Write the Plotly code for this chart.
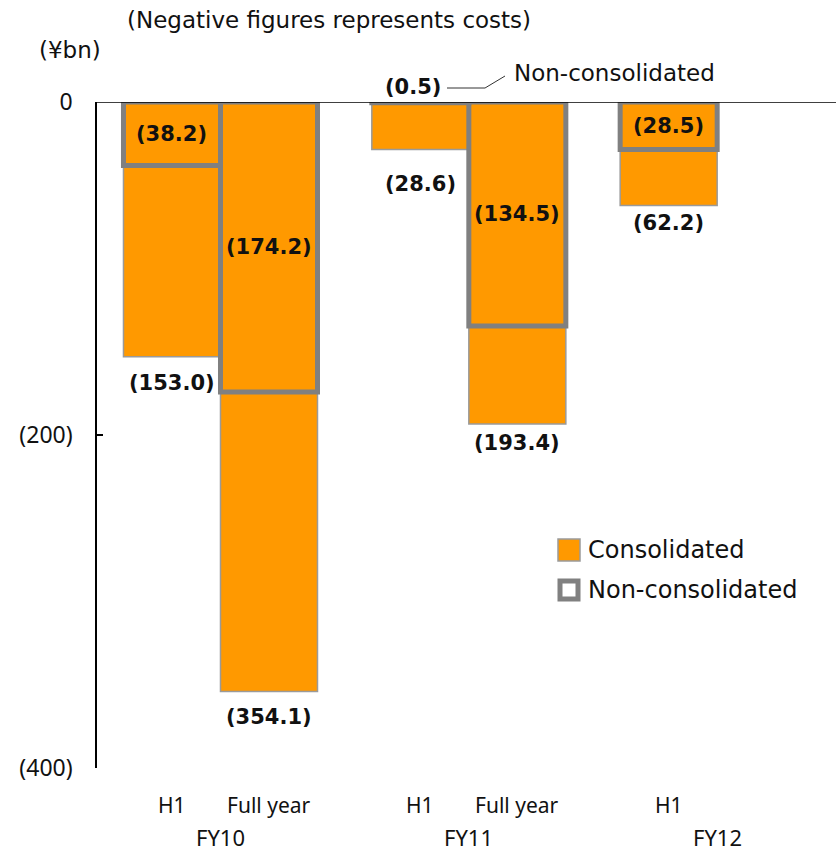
import plotly.graph_objects as go

# ---- data ----
groups = ["FY10", "FY11", "FY12"]
periods = ["H1", "Full year", "H1", "Full year", "H1"]
group_of = [0, 0, 1, 1, 2]
sub_of = [0, 1, 0, 1, 0]
consolidated = [-153.0, -354.1, -28.6, -193.4, -62.2]
non_consolidated = [-38.2, -174.2, -0.5, -134.5, -28.5]
series_names = ["Consolidated", "Non-consolidated"]
y_ticks = [0, -200, -400]
y_tick_labels = ["0", "(200)", "(400)"]

# ---- layout helpers ----
GROUP_STEP = 2.56
xpos = [g * GROUP_STEP + s for g, s in zip(group_of, sub_of)]
group_centers = [g * GROUP_STEP + 0.5 for g in range(len(groups))]

ORANGE = "#FF9900"
GRAY = "#808080"
LABEL_FONT = dict(family="DejaVu Sans", size=21, color="#111111")
PL, PT, PW, PH = 97, 102, 739, 666  # plot area in pixels


def px_x(p):
    return (p - PL) / PW


def px_y(p):
    return (PT + PH - p) / PH


def fmt(v):
    return "({:.1f})".format(abs(v))


fig = go.Figure()
fig.add_trace(go.Bar(
    x=xpos, y=consolidated, width=1.0, name=series_names[0], showlegend=False,
    marker=dict(color=ORANGE, line=dict(color="#9a9a9a", width=1.5)),
    hoverinfo="skip",
))
fig.add_trace(go.Bar(
    x=xpos, y=non_consolidated, width=1.0, name=series_names[1], showlegend=False,
    marker=dict(color="rgba(0,0,0,0)", line=dict(color=GRAY, width=5)),
    hoverinfo="skip",
))

annotations = []
# consolidated labels below bar ends
cons_shift = [-26, -25, -34, -19, -17]
for x, v, sh in zip(xpos, consolidated, cons_shift):
    annotations.append(dict(x=x, y=v, xref="x", yref="y", text="<b>" + fmt(v) + "</b>",
                            showarrow=False, yshift=sh, font=LABEL_FONT))
# non-consolidated labels (middle of box, or above if tiny)
for x, v in zip(xpos, non_consolidated):
    if abs(v) < 5:
        annotations.append(dict(x=x, y=0, xref="x", yref="y", text="<b>" + fmt(v) + "</b>",
                                showarrow=False, yshift=15, xshift=-7, font=LABEL_FONT))
    else:
        annotations.append(dict(x=x, y=v / 2, xref="x", yref="y", text="<b>" + fmt(v) + "</b>",
                                showarrow=False, font=LABEL_FONT))

# category labels
for x, p in zip(xpos, periods):
    annotations.append(dict(x=x, y=0, xref="x", yref="paper", text=p, showarrow=False,
                            yanchor="middle", yshift=-37,
                            font=dict(family="Noto Sans", size=21, color="#111111")))
for x, g in zip(group_centers, groups):
    annotations.append(dict(x=x, y=0, xref="x", yref="paper", text=g, showarrow=False,
                            yanchor="middle", yshift=-69,
                            font=dict(family="Noto Sans", size=22, color="#111111")))

TXT_FONT = dict(family="DejaVu Sans", size=23, color="#111111")
annotations.append(dict(x=px_x(125), y=px_y(20), xref="paper", yref="paper",
                        text="(Negative figures represents costs)",
                        showarrow=False, xanchor="left", yanchor="middle", font=TXT_FONT))
annotations.append(dict(x=px_x(37), y=px_y(50), xref="paper", yref="paper", text="(¥bn)",
                        showarrow=False, xanchor="left", yanchor="middle", font=TXT_FONT))
annotations.append(dict(x=3.5, y=px_y(73), xref="x", yref="paper", text=series_names[1],
                        showarrow=False, xanchor="left", yanchor="middle", font=TXT_FONT))

# manual legend
LEG_FONT = dict(family="DejaVu Sans", size=24, color="#111111")
leg_rows = [550, 590]
shapes = [
    dict(type="line", xref="paper", yref="y", x0=0, x1=1, y0=0, y1=0,
         line=dict(color="black", width=1.5)),
    dict(type="path", xref="x", yref="paper",
         path="M 2.835 {a} L 3.227 {a} L 3.433 {b}".format(a=px_y(88), b=px_y(76)),
         line=dict(color="#333333", width=1)),
    dict(type="rect", xref="paper", yref="paper",
         x0=px_x(558), x1=px_x(580), y0=px_y(leg_rows[0] - 11), y1=px_y(leg_rows[0] + 11),
         fillcolor=ORANGE, line=dict(color="#9a9a9a", width=1.5)),
    dict(type="rect", xref="paper", yref="paper",
         x0=px_x(560), x1=px_x(578), y0=px_y(leg_rows[1] - 9), y1=px_y(leg_rows[1] + 9),
         fillcolor="white", line=dict(color=GRAY, width=5)),
]
for name, row in zip(series_names, leg_rows):
    annotations.append(dict(x=px_x(586), y=px_y(row), xref="paper", yref="paper", text=name,
                            showarrow=False, xanchor="left", yanchor="middle", font=LEG_FONT))

fig.update_layout(
    width=836, height=854,
    margin=dict(l=PL, r=0, t=PT, b=854 - PT - PH),
    paper_bgcolor="white", plot_bgcolor="white",
    barmode="overlay",
    showlegend=False,
    xaxis=dict(range=[-0.773, 6.845], showticklabels=False, showgrid=False, zeroline=False,
               showline=False, ticks=""),
    yaxis=dict(range=[-400, 0], tickvals=y_ticks, ticktext=y_tick_labels, showgrid=False,
               zeroline=False, showline=True, linecolor="black", linewidth=1.5,
               ticks="inside", ticklen=6, tickcolor="black", tickwidth=1.5,
               tickfont=dict(family="Noto Sans", size=23, color="#111111"), ticklabelstandoff=18),
    annotations=annotations,
    shapes=shapes,
)

fig.write_html("out.html")
